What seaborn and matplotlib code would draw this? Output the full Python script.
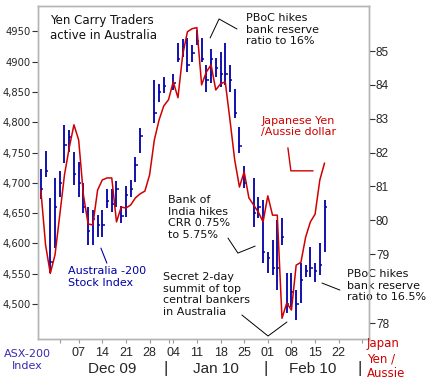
import numpy as np
import pandas as pd
import matplotlib
matplotlib.use('Agg')
import matplotlib.pyplot as plt
import seaborn as sns
from matplotlib.transforms import blended_transform_factory

# weekdays on the axis, data runs Nov 25 2009 - Feb 17 2010
axis_days = pd.bdate_range('2009-11-25', '2010-03-03')
days = pd.bdate_range('2009-11-25', '2010-02-17')
nan = np.nan

# ASX-200 daily bars (nan = exchange holiday)
asx_high = [4723, 4752, 4675, 4708, 4719, 4795, 4787, 4751,
            4734, 4700, 4660, 4655, 4647, 4655, 4690, 4690, 4703, 4662,
            4695, 4705, 4743, 4790, nan, nan, 4870, 4863, 4875, nan,
            4880, 4931, 4937, 4939, 4927, 4952, 4939, 4894, 4921, 4906,
            4916, 4931, 4894, 4855, 4792, 4728, nan, 4708, 4677, 4672,
            4586, 4606, 4639, 4642, 4551, 4551, 4523, 4568, 4564, 4594,
            4568, 4601, 4672]
asx_low = [4673, 4710, 4551, 4592, 4677, 4733, 4751, 4696,
           4677, 4650, 4597, 4597, 4611, 4611, 4658, 4652, 4660, 4634,
           4644, 4677, 4701, 4749, nan, nan, 4799, 4833, 4848, nan,
           4853, 4899, 4908, 4883, 4899, 4927, 4899, 4850, 4865, 4875,
           4858, 4861, 4850, 4807, 4749, 4691, nan, 4627, 4642, 4568,
           4551, 4548, 4523, 4597, 4485, 4495, 4474, 4502, 4545, 4545,
           4536, 4548, 4586]
asx_close = [4690, 4720, 4570, 4660, 4700, 4762, 4775, 4715,
             4700, 4660, 4620, 4640, 4630, 4630, 4670, 4665, 4690, 4645,
             4680, 4690, 4730, 4778, nan, nan, 4815, 4850, 4860, nan,
             4865, 4905, 4925, 4895, 4915, 4935, 4905, 4870, 4905, 4890,
             4880, 4880, 4870, 4815, 4760, 4700, nan, 4650, 4660, 4585,
             4575, 4560, 4560, 4610, 4500, 4520, 4500, 4540, 4555, 4560,
             4555, 4565, 4660]

# Japanese yen per Aussie dollar
yen_aud = [80.89, 79.27, 78.72, 78.99, 80.15, 81.34, 82.14, 82.82,
           82.37, 80.75, 79.89, 79.86, 80.89, 81.19, 81.25, 81.25, 79.95, 80.39,
           80.36, 80.45, 80.66, 80.78, 80.86, 81.34, 82.37, 82.96, 83.38, 83.56,
           84.09, 83.62, 84.89, 85.57, 85.66, 85.69, 84.00, 84.38, 84.59, 83.85,
           84.03, 84.09, 82.96, 81.78, 80.98, 81.43, 80.66, 80.45, 80.24, 79.95,
           80.72, 80.15, 80.15, 78.07, 78.29, 78.19, 78.84, 78.88, 79.50, 79.95,
           80.18, 81.19, 81.69]

left_ticks = [4500, 4550, 4600, 4650, 4700, 4750, 4800, 4850, 4900, 4950]
left_labels = ['4,500', '4,550', '4,600', '4,650', '4,700', '4,750',
               '4,800', '4,850', '4900', '4950']
right_ticks = [78, 79, 80, 81, 82, 83, 84, 85]
months = ['Dec 09', 'Jan 10', 'Feb 10']

BLUE = '#0000a8'
RED = '#d00000'
ARIAL = 'Liberation Sans'

sns.set_style('white')
plt.rcParams['font.family'] = ['DejaVu Sans']

fig = plt.figure(figsize=(4.31, 3.79), dpi=100)
ax = fig.add_axes([38 / 431, 40 / 379, 331 / 431, 333 / 379])
pos = np.arange(len(days))

# ASX bars
ax.vlines(pos, asx_low, asx_high, color=BLUE, lw=1.3)
ax.hlines(asx_close, pos, pos + 0.5, color=BLUE, lw=1.1)
ax.set_xlim(-0.6, 69.4)
ax.set_ylim(4442, 4992)
ax.set_yticks(left_ticks)
ax.set_yticklabels(left_labels)
ax.tick_params(axis='y', left=True, length=4, width=0.8, color='#333333',
               labelsize=7.2, pad=1)

# x axis: mondays
mondays = [i for i, d in enumerate(axis_days)
           if d.weekday() == 0 and pd.Timestamp('2009-12-07') <= d <= pd.Timestamp('2010-02-22')]
ax.set_xticks(mondays)
ax.set_xticklabels([axis_days[i].strftime('%d') for i in mondays], family=ARIAL, fontsize=9)
month_start = [i for i, d in enumerate(axis_days) if d.day <= 3 and (i == 0 or axis_days[i - 1].month != d.month)]
ax.set_xticks(month_start, minor=True)
ax.tick_params(axis='x', which='both', bottom=True, length=3, width=0.8, color='#999999', pad=3)

# right axis
def fwd(v):
    v = np.asarray(v, dtype=float)
    return np.where(v >= 79, v - 79, (v - 79) * 2.04)


def inv(u):
    u = np.asarray(u, dtype=float)
    return np.where(u >= 0, u + 79, u / 2.04 + 79)


ax2 = ax.twinx()
ax2.set_yscale('function', functions=(fwd, inv))
sns.lineplot(x=pos, y=yen_aud, ax=ax2, color=RED, lw=1.1, errorbar=None)
ax2.set_ylim(77.77, 86.33)
ax2.set_yticks(right_ticks)
ax2.set_yticklabels([str(t) for t in right_ticks], family=ARIAL, fontsize=8.5)
ax2.tick_params(axis='y', right=True, length=4, width=0.8, color='#333333', pad=1)
ax2.set_xlim(-0.6, 69.4)

for a in (ax, ax2):
    for s in a.spines.values():
        s.set_color('#b4b4b4')
        s.set_linewidth(1)

# month labels and separators under the ticks
tr = blended_transform_factory(ax.transData, fig.transFigure)
for m in range(3):
    idx = [i for i, d in enumerate(axis_days) if d.strftime('%b %y') == months[m] and d <= pd.Timestamp('2010-02-26')]
    fig.text(np.mean(idx), 10 / 379, months[m], transform=tr, ha='center', va='center',
             family=ARIAL, fontsize=11)
for i in month_start[1:]:
    fig.text(i - 0.5, 10 / 379, '|', transform=tr, ha='center', va='center',
             family=ARIAL, fontsize=12)

# annotations (axes fraction)
ta = ax.transAxes
ax.text(0.036, 0.976, 'Yen Carry Traders\nactive in Australia', transform=ta,
        ha='left', va='top', fontsize=8.5, color='#111111')
ax.text(0.628, 0.979, 'PBoC hikes\nbank reserve\nratio to 16%', transform=ta,
        ha='left', va='top', fontsize=8, color='#111111')
ax.plot([0.520, 0.547, 0.601], [0.904, 0.961, 0.931], transform=ta, color='black', lw=0.7)
ax.text(0.674, 0.670, 'Japanese Yen\n/Aussie dollar', transform=ta,
        ha='left', va='top', fontsize=8, color=RED)
ax.plot([0.755, 0.764, 0.831], [0.574, 0.505, 0.505], transform=ta, color=RED, lw=1)
ax.text(0.393, 0.432, 'Bank of\nIndia hikes\nCRR 0.75%\nto 5.75%', transform=ta,
        ha='left', va='top', fontsize=8, color='#111111')
ax.plot([0.574, 0.604, 0.656], [0.303, 0.258, 0.279], transform=ta, color='black', lw=0.7)
ax.text(0.378, 0.201, 'Secret 2-day\nsummit of top\ncentral bankers\nin Australia', transform=ta,
        ha='left', va='top', fontsize=8, color='#111111')
ax.plot([0.616, 0.695, 0.752], [0.072, 0.009, 0.051], transform=ta, color='black', lw=0.7)
ax.text(0.091, 0.219, 'Australia -200\nStock Index', transform=ta,
        ha='left', va='top', fontsize=8, color=BLUE)
ax.plot([0.190, 0.208], [0.273, 0.228], transform=ta, color=BLUE, lw=0.8)
ax.text(0.934, 0.210, 'PBoC hikes\nbank reserve\nratio to 16.5%', transform=ta,
        ha='left', va='top', fontsize=8, color='#111111', clip_on=False)
ax.plot([0.858, 0.912], [0.168, 0.147], transform=ta, color='black', lw=0.7)

fig.text(27 / 431, 30 / 379, 'ASX-200\nIndex', ha='center', va='top', fontsize=8, color='#3a2ab0')
fig.text(367 / 431, 42 / 379, 'Japan\nYen /\nAussie', ha='left', va='top', fontsize=8.5, color=RED)

fig.savefig('out.png', dpi=100)
